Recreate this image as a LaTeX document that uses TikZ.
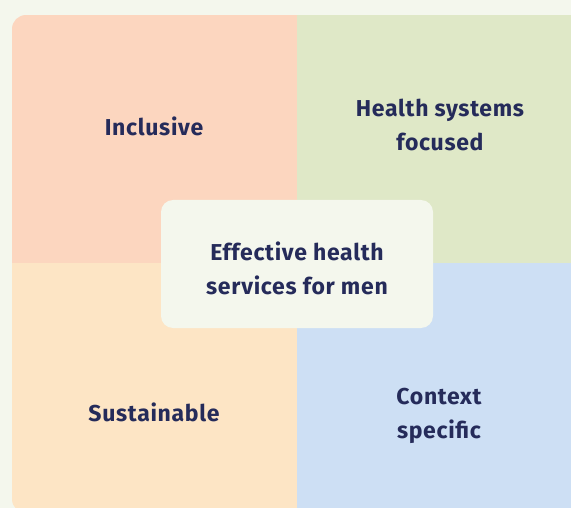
\documentclass[tikz,border=0pt]{standalone}
\usepackage{fontspec}
\setmainfont{Fira Sans}[LetterSpace=3]
\definecolor{bgcol}{HTML}{F4F7ED}
\definecolor{peach}{HTML}{FCD6BF}
\definecolor{sage}{HTML}{DFE8C7}
\definecolor{cream}{HTML}{FDE5C5}
\definecolor{sky}{HTML}{CDDFF4}
\definecolor{ink}{HTML}{252B5A}
\tikzset{
  label text/.style={text=ink, align=center, font=\fontsize{23}{34}\selectfont\bfseries},
  hub/.style={fill=bgcol, rounded corners=12pt, inner sep=0pt}
}
\begin{document}
\begin{tikzpicture}[x=1pt,y=-1pt]
  \useasboundingbox (0,0) rectangle (571,508);
  \fill[bgcol] (0,0) rectangle (571,508);
  % four quadrants inside one rounded frame
  \begin{scope}
    \clip (0,0) rectangle (571,508);
    \begin{scope}
      \clip[rounded corners=14pt] (12,15) rectangle (590,513);
      \fill[peach] (12,15) rectangle (297,263);
      \fill[sage] (297,15) rectangle (590,263);
      \fill[cream] (12,263) rectangle (297,513);
      \fill[sky] (297,263) rectangle (590,513);
    \end{scope}
  \end{scope}
  % centre panel
  \fill[hub] (161,200) rectangle (433,328);
  \node[label text] (inclusive) at (154,126) {Inclusive};
  \node[label text] (health) at (440,125) {Health systems\\focused};
  \node[label text] (centre) at (297,268) {Effective health\\services for men};
  \node[label text] (sustainable) at (154,412) {Sustainable};
  \node[label text] (context) at (439,416) {Context\\specific};
\end{tikzpicture}
\end{document}
